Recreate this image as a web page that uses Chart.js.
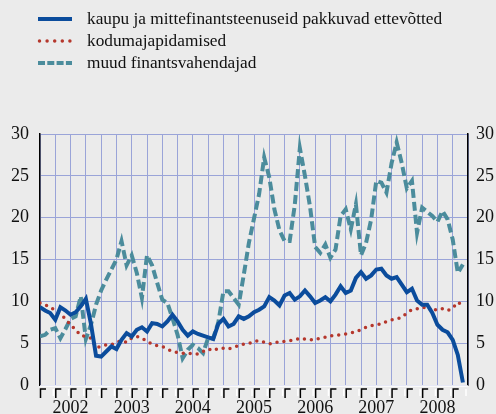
<!DOCTYPE html>
<html>
<head>
<meta charset="utf-8">
<script src="https://cdn.jsdelivr.net/npm/chart.js@4.4.1/dist/chart.umd.min.js"></script>
<style>
  body { margin: 0; background: #ebebeb; }
  #wrap { position: relative; width: 496px; height: 414px; background: #ebebeb; overflow: hidden; }
  #chart { position: absolute; left: 0; top: 0; }
  .legend { position: absolute; left: 37px; top: 8px; font-family: "Liberation Serif", "Times New Roman", serif; font-size: 17.3px; color: #111; }
  .row { display: flex; align-items: center; height: 22px; white-space: nowrap; }
  .row svg { width: 36px; height: 8px; margin-right: 14px; flex: none; }
</style>
</head>
<body>
<div id="wrap">
  <canvas id="chart" width="496" height="414"></canvas>
  <div class="legend">
    <div class="row"><svg viewBox="0 0 36 8"><line x1="1" y1="4" x2="35" y2="4" stroke="#0b4c9c" stroke-width="4"/></svg>kaupu ja mittefinantsteenuseid pakkuvad ettevõtted</div>
    <div class="row"><svg viewBox="0 0 36 8"><line x1="2.5" y1="4" x2="34" y2="4" stroke="#b5372c" stroke-width="3.5" stroke-linecap="round" stroke-dasharray="0 7.6"/></svg>kodumajapidamised</div>
    <div class="row"><svg viewBox="0 0 36 8"><line x1="1" y1="4" x2="35" y2="4" stroke="#4b8c9c" stroke-width="4" stroke-dasharray="7 2.3"/></svg>muud finantsvahendajad</div>
  </div>
</div>
<script>
// aastad ja y-telje jaotised
const years = ['2002', '2003', '2004', '2005', '2006', '2007', '2008'];
const yTicks = [0, 5, 10, 15, 20, 25, 30];

// kuised väärtused, jaanuar 2002 - detsember 2008
const ettevotted = [
  9.3, 8.9, 8.6, 7.8, 9.3, 8.9, 8.4, 8.7, 9.4, 10.3, 7.3, 3.5,
  3.4, 4.0, 4.6, 4.3, 5.4, 6.2, 5.8, 6.6, 6.9, 6.4, 7.4, 7.3,
  7.0, 7.6, 8.4, 7.6, 6.6, 5.9, 6.4, 6.1, 5.9, 5.7, 5.5, 7.3,
  7.9, 7.0, 7.3, 8.2, 7.9, 8.2, 8.7, 9.0, 9.4, 10.5, 10.1, 9.5,
  10.7, 11.0, 10.2, 10.6, 11.3, 10.6, 9.8, 10.1, 10.5, 10.0, 10.8, 11.8,
  11.0, 11.3, 12.8, 13.5, 12.7, 13.1, 13.8, 13.9, 13.1, 12.7, 12.9, 12.0,
  11.1, 11.5, 10.1, 9.6, 9.6, 8.6, 7.2, 6.6, 6.3, 5.4, 3.6, 0.3
];
const kodumajapidamised = [
  9.8, 9.6, 9.3, 8.9, 8.5, 7.9, 7.2, 6.6, 5.9, 5.8, 5.6, 4.5,
  4.6, 4.8, 4.8, 5.1, 5.3, 5.1, 5.6, 5.8, 5.6, 5.2, 4.9, 4.7,
  4.6, 4.3, 4.0, 3.9, 3.8, 3.8, 3.7, 3.7, 4.0, 4.3, 4.1, 4.4,
  4.4, 4.3, 4.5, 4.7, 4.9, 4.95, 5.2, 5.3, 5.1, 4.9, 5.0, 5.2,
  5.2, 5.3, 5.4, 5.6, 5.5, 5.4, 5.4, 5.6, 5.7, 5.9, 5.9, 6.0,
  6.1, 6.2, 6.4, 6.6, 6.9, 7.1, 7.2, 7.3, 7.6, 7.8, 7.9, 8.1,
  8.6, 9.0, 9.1, 9.2, 9.4, 8.8, 9.1, 9.1, 8.9, 9.2, 9.9, 9.5
];
const finantsvahendajad = [
  5.8, 6.0, 6.6, 6.8, 5.6, 6.7, 7.9, 8.2, 10.6, 5.5, 7.2, 9.6,
  11.3, 12.6, 13.8, 15.0, 17.2, 14.3, 15.5, 13.4, 10.4, 15.5, 14.3, 12.2,
  10.2, 9.8, 8.0, 6.0, 3.2, 4.2, 4.8, 4.4, 3.8, 5.6, 5.6, 7.5,
  11.2, 11.2, 10.4, 9.6, 13.2, 17.0, 19.9, 22.8, 27.2, 24.8, 21.0, 18.5,
  17.2, 17.2, 21.5, 28.3, 25.0, 21.3, 16.5, 15.8, 16.8, 15.2, 16.2, 20.2,
  21.0, 18.6, 21.6, 15.5, 17.0, 19.8, 24.4, 24.2, 23.0, 26.5, 29.0, 26.5,
  23.5, 24.4, 18.2, 21.2, 20.7, 20.2, 19.5, 20.8, 19.8, 17.4, 13.4, 14.4
];

function punktid(values) {
  return values.map((v, i) => ({ x: i, y: v }));
}

const serif = { family: '"Liberation Serif", "Times New Roman", serif', size: 18 };
const gridColor = '#9aa4d8';

// kvartalite "sakid" x-telje all
const sakid = {
  id: 'sakid',
  afterDraw(chart) {
    const ctx = chart.ctx;
    const xs = chart.scales.x;
    const b = chart.chartArea.bottom;
    ctx.save();
    ctx.strokeStyle = '#ffffff';
    ctx.lineWidth = 1.5;
    ctx.beginPath();
    ctx.moveTo(chart.chartArea.left, b + 1);
    ctx.lineTo(chart.chartArea.right, b + 1);
    ctx.stroke();
    for (let q = 0; q < 28; q++) {
      const x0 = xs.getPixelForValue(q * 3);
      const x1 = xs.getPixelForValue(q * 3 + 3);
      ctx.strokeStyle = '#ffffff';
      ctx.beginPath();
      ctx.moveTo(x1 - 2, b + 4);
      ctx.lineTo(x1 - 2, b + 11);
      ctx.stroke();
      ctx.strokeStyle = '#000000';
      ctx.beginPath();
      ctx.moveTo(x0 + 0.5, b + 13);
      ctx.lineTo(x0 + 0.5, b + 4);
      ctx.lineTo(x0 + 6, b + 4);
      ctx.stroke();
    }
    ctx.restore();
  }
};

new Chart(document.getElementById('chart'), {
  type: 'line',
  data: {
    datasets: [
      {
        label: 'kaupu ja mittefinantsteenuseid pakkuvad ettevõtted',
        data: punktid(ettevotted),
        borderColor: '#0b4c9c',
        borderWidth: 4,
        borderJoinStyle: 'miter',
        pointRadius: 0,
        tension: 0
      },
      {
        label: 'kodumajapidamised',
        data: punktid(kodumajapidamised),
        borderColor: '#b5372c',
        borderWidth: 3.5,
        borderDash: [0, 7],
        borderCapStyle: 'round',
        pointRadius: 0,
        tension: 0
      },
      {
        label: 'muud finantsvahendajad',
        data: punktid(finantsvahendajad),
        borderColor: '#4b8c9c',
        borderWidth: 4,
        borderDash: [9, 4],
        pointRadius: 0,
        tension: 0
      }
    ]
  },
  options: {
    responsive: false,
    animation: false,
    layout: { padding: { top: 134, left: 0, right: 0, bottom: 0 } },
    plugins: {
      legend: { display: false },
      tooltip: { enabled: false }
    },
    scales: {
      x: {
        type: 'linear',
        min: 0,
        max: 84,
        afterBuildTicks: s => { s.ticks = []; for (let v = 0; v <= 84; v += 3) s.ticks.push({ value: v }); },
        afterFit: s => { s.height = 29; },
        grid: { color: gridColor, lineWidth: 1, drawTicks: true, tickLength: 10, tickColor: 'rgba(0,0,0,0)' },
        border: { display: false },
        ticks: {
          autoSkip: false,
          maxRotation: 0,
          minRotation: 0,
          padding: 2,
          color: '#111',
          font: serif,
          callback: v => (v % 12 === 6 ? years[(v - 6) / 12] : '')
        }
      },
      y: {
        position: 'left',
        min: 0,
        max: 30,
        afterBuildTicks: s => { s.ticks = yTicks.map(v => ({ value: v })); },
        afterFit: s => { s.width = 40; },
        grid: { color: gridColor, lineWidth: 1, drawTicks: false },
        border: { display: true, color: '#000', width: 1.5 },
        ticks: { padding: 11, color: '#111', font: serif }
      },
      y2: {
        position: 'right',
        min: 0,
        max: 30,
        afterBuildTicks: s => { s.ticks = yTicks.map(v => ({ value: v })); },
        afterFit: s => { s.width = 28; },
        grid: { display: false, drawTicks: false },
        border: { display: true, color: '#000', width: 1.5 },
        ticks: { padding: 8, color: '#111', font: serif }
      }
    }
  },
  plugins: [sakid]
});
</script>
</body>
</html>
